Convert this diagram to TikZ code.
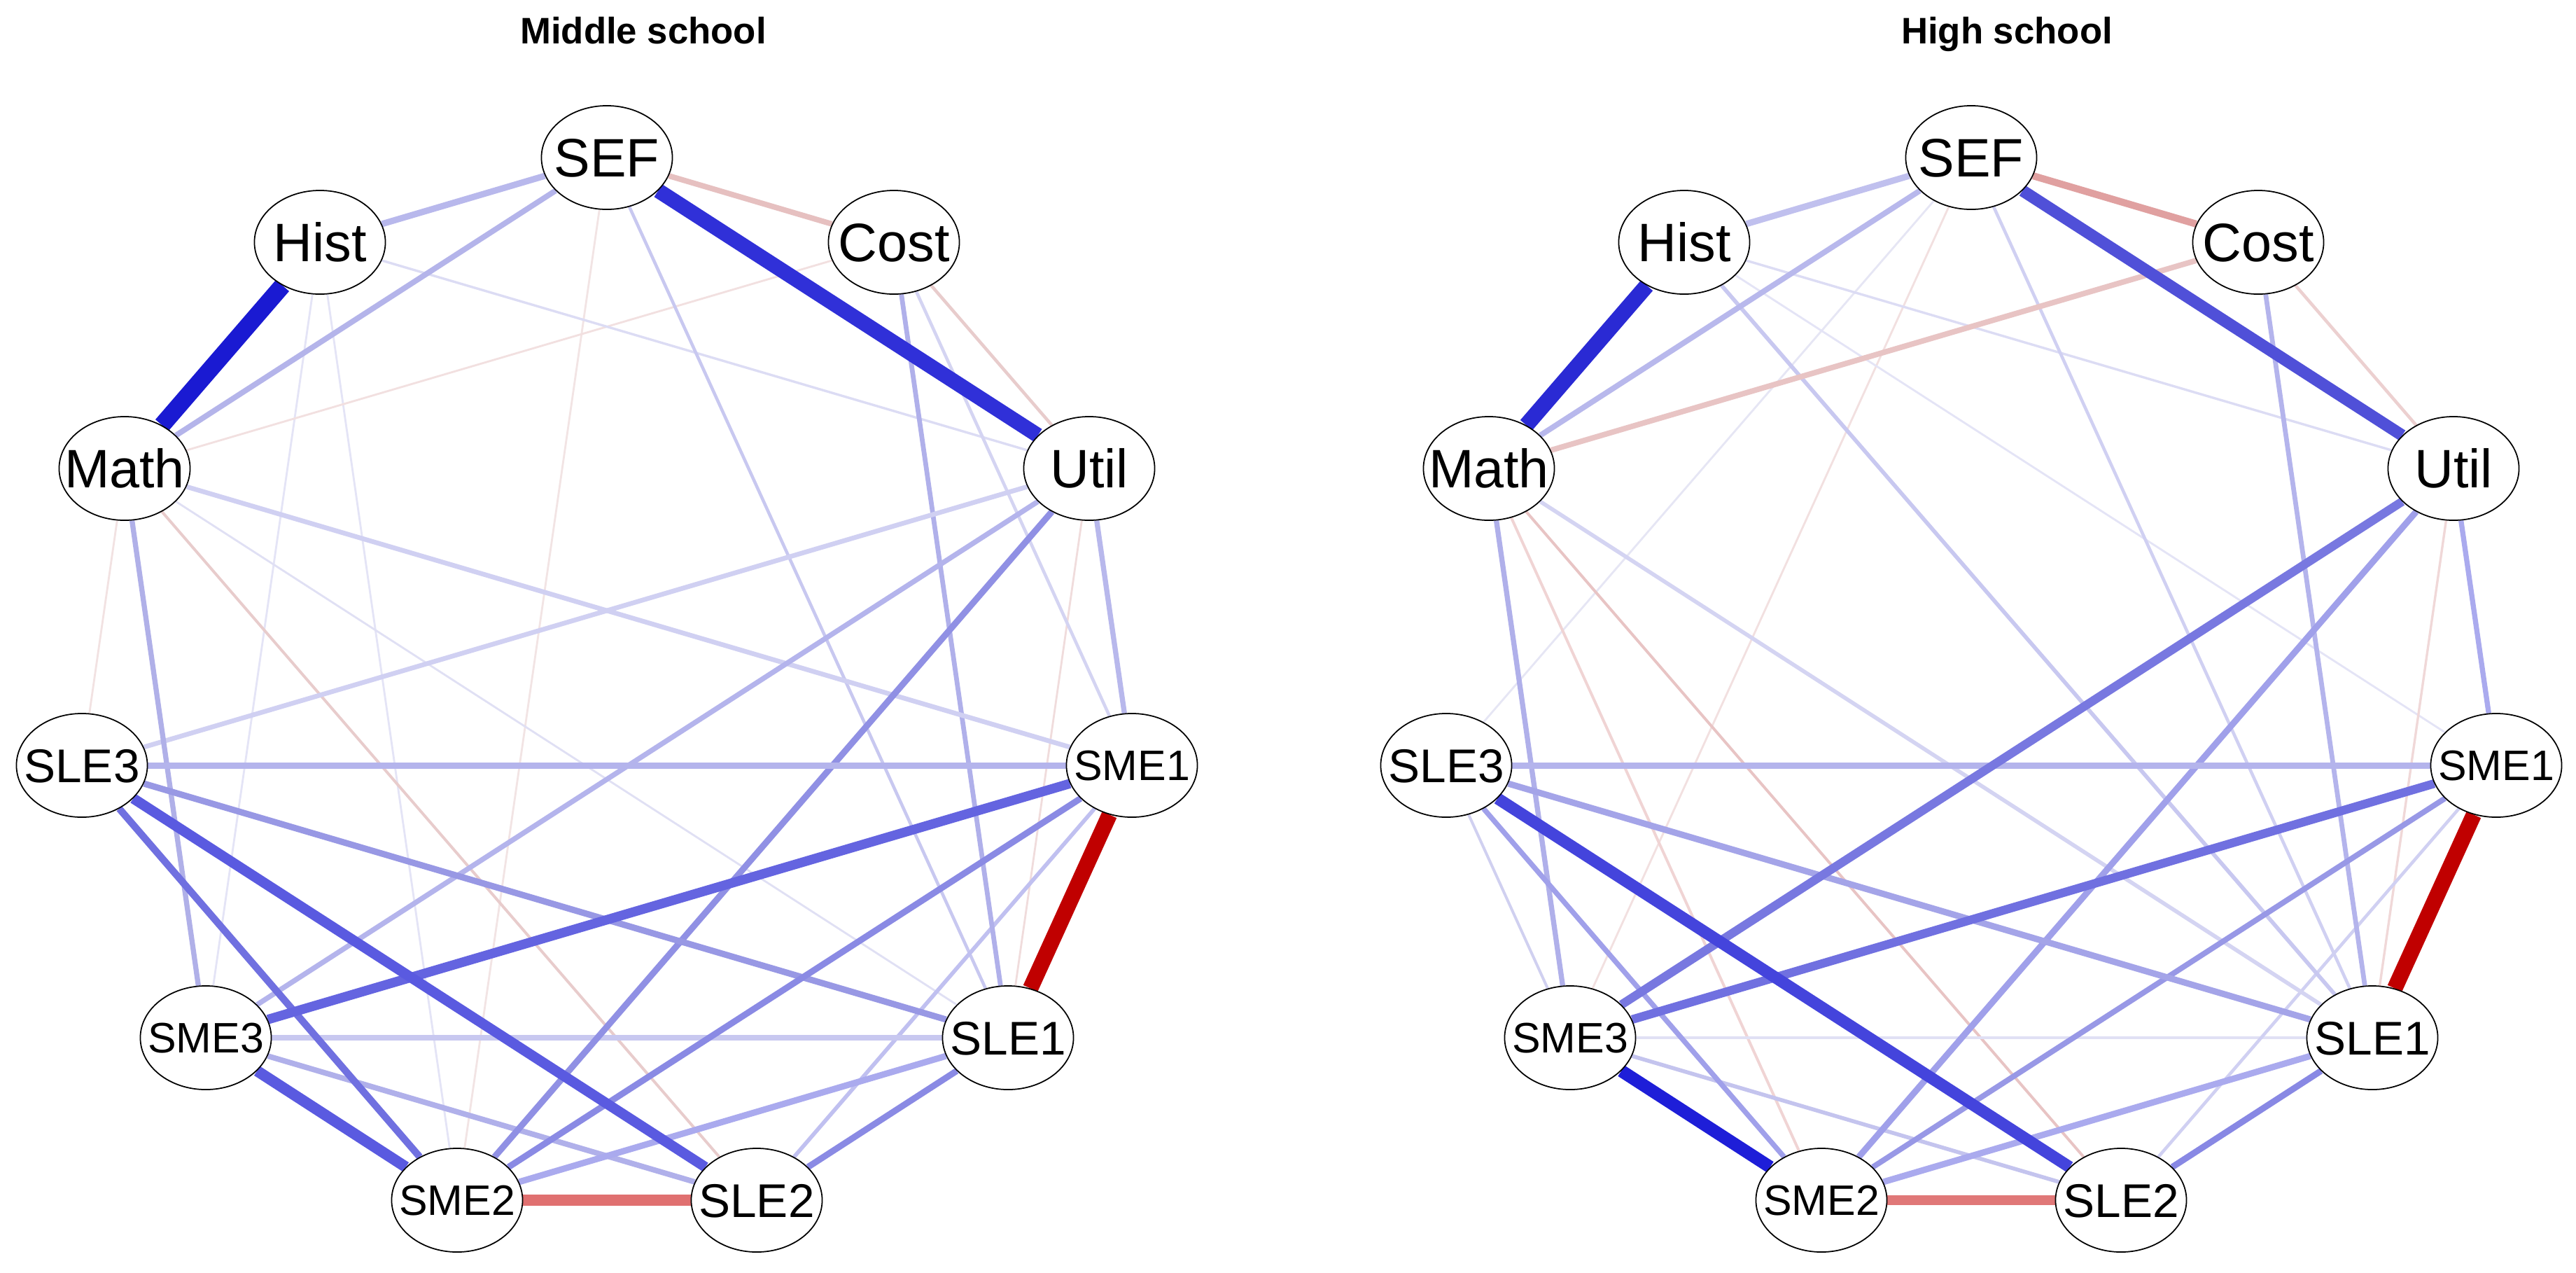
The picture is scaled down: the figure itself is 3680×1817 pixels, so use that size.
\documentclass[tikz,border=0pt]{standalone}
\usepackage{fontspec}
\setmainfont{Liberation Sans}
\usetikzlibrary{shapes.geometric}
\pgfdeclarelayer{back}
\pgfdeclarelayer{bg}
\pgfsetlayers{back,bg,main}
\newcommand\edg[4]{\definecolor{ec}{HTML}{#2}\draw[edge={#1}] (#3) -- (#4);}
\newcommand\lbl[1]{\makebox[0pt][c]{\smash{\raisebox{-0.358em}{#1}}}}
\tikzset{
  vtx/.style={ellipse, draw=black, line width=0.5pt, fill=white, minimum width=1.87cm, minimum height=1.48cm, inner sep=0pt},
  bigl/.style={vtx, font=\fontsize{22}{24}\selectfont},
  slel/.style={vtx, font=\fontsize{19.2}{21}\selectfont},
  smel/.style={vtx, font=\fontsize{17.3}{19}\selectfont},
  ttl/.style={font=\fontsize{15}{18}\selectfont\bfseries, anchor=base, inner sep=0pt},
  edge/.style={line width=#1*0.32pt, draw=ec}
}
\begin{document}
\begin{tikzpicture}[x=0.01cm, y=-0.01cm]
\useasboundingbox (0,0) rectangle (3680,1817);
\begin{pgfonlayer}{back}
\fill[white] (0,0) rectangle (3680,1817);
\end{pgfonlayer}
% titles
\node[ttl] (t1) at (919,62) {Middle school};
\node[ttl] (t2) at (2867,62) {High school};
% left nodes
\node[bigl] (aSEF)  at (867,225)  {\lbl{SEF}};
\node[bigl] (aCost) at (1277,346) {\lbl{Cost}};
\node[bigl] (aUtil) at (1556,669) {\lbl{Util}};
\node[smel] (aSME1) at (1617,1093) {\lbl{SME1}};
\node[slel] (aSLE1) at (1440,1482) {\lbl{SLE1}};
\node[slel] (aSLE2) at (1081,1714) {\lbl{SLE2}};
\node[smel] (aSME2) at (653,1714) {\lbl{SME2}};
\node[smel] (aSME3) at (294,1482) {\lbl{SME3}};
\node[slel] (aSLE3) at (117,1093) {\lbl{SLE3}};
\node[bigl] (aMath) at (178,669) {\lbl{Math}};
\node[bigl] (aHist) at (457,346) {\lbl{Hist}};
% right nodes
\node[bigl] (bSEF)  at (2816,225)  {\lbl{SEF}};
\node[bigl] (bCost) at (3226,346) {\lbl{Cost}};
\node[bigl] (bUtil) at (3505,669) {\lbl{Util}};
\node[smel] (bSME1) at (3566,1093) {\lbl{SME1}};
\node[slel] (bSLE1) at (3389,1482) {\lbl{SLE1}};
\node[slel] (bSLE2) at (3030,1714) {\lbl{SLE2}};
\node[smel] (bSME2) at (2602,1714) {\lbl{SME2}};
\node[smel] (bSME3) at (2243,1482) {\lbl{SME3}};
\node[slel] (bSLE3) at (2066,1093) {\lbl{SLE3}};
\node[bigl] (bMath) at (2127,669) {\lbl{Math}};
\node[bigl] (bHist) at (2406,346) {\lbl{Hist}};
\begin{pgfonlayer}{bg}
% ---- left panel edges ----
\edg{2.5}{F2E4E4}{aSEF}{aSME2}
\edg{2.5}{E4E4F6}{aHist}{aSME3}
\edg{2.5}{E4E4F6}{aHist}{aSME2}
\edg{2.5}{F2E0E0}{aCost}{aMath}
\edg{2.5}{F0DCDC}{aUtil}{aSLE1}
\edg{2.5}{E0E0F4}{aMath}{aSLE1}
\edg{2.5}{F2E2E2}{aMath}{aSLE3}
\edg{3}{DCDCF4}{aHist}{aUtil}
\edg{3.5}{E8CCCC}{aMath}{aSLE2}
\edg{4}{C8C8F0}{aSEF}{aSLE1}
\edg{4}{D4D4F2}{aCost}{aSME1}
\edg{4}{E8CCCC}{aCost}{aUtil}
\edg{5}{C0C0F0}{aSME1}{aSLE2}
\edg{6}{B0B0EA}{aCost}{aSLE1}
\edg{6}{D0D0F2}{aUtil}{aSLE3}
\edg{6}{D0D0F2}{aMath}{aSME1}
\edg{6.5}{B4B4EC}{aUtil}{aSME3}
\edg{6.5}{B8B8EC}{aUtil}{aSME1}
\edg{6.5}{B0B0E8}{aMath}{aSME3}
\edg{6.5}{C8C8F0}{aSME3}{aSLE1}
\edg{7}{B4B4EA}{aSEF}{aMath}
\edg{7}{E6C0C0}{aSEF}{aCost}
\edg{7}{B0B0EA}{aSME3}{aSLE2}
\edg{8}{B8B8EC}{aSEF}{aHist}
\edg{8}{9090E4}{aUtil}{aSME2}
\edg{8}{B4B4EC}{aSLE3}{aSME1}
\edg{8}{9898E4}{aSLE3}{aSLE1}
\edg{8}{8A8AE4}{aSME1}{aSME2}
\edg{8}{AAAAEE}{aSLE1}{aSME2}
\edg{8}{8A8AE4}{aSLE1}{aSLE2}
\edg{9}{7070E0}{aSLE3}{aSME2}
\edg{12}{6464E0}{aSME3}{aSME1}
\edg{13}{5A5AE0}{aSLE3}{aSLE2}
\edg{14}{5A5AE0}{aSME3}{aSME2}
\edg{15}{E07070}{aSME2}{aSLE2}
\edg{19}{3030D8}{aSEF}{aUtil}
\edg{20}{C00000}{aSME1}{aSLE1}
\edg{22}{1A1AD2}{aHist}{aMath}
% ---- right panel edges ----
\edg{2.5}{E6E6F4}{bSEF}{bSLE3}
\edg{2.5}{F2E0E0}{bSEF}{bSME3}
\edg{2.5}{E4E4F6}{bHist}{bSME1}
\edg{3}{DCDCF4}{bHist}{bUtil}
\edg{3}{F0D8D8}{bUtil}{bSLE1}
\edg{3.5}{F0D4D4}{bMath}{bSME2}
\edg{3.5}{E8C4C4}{bMath}{bSLE2}
\edg{3.5}{D0D0F0}{bSLE3}{bSME3}
\edg{3.5}{E0E0F4}{bSME3}{bSLE1}
\edg{4}{D0D0F2}{bSEF}{bSLE1}
\edg{4}{ECD0D0}{bCost}{bUtil}
\edg{4}{D0D0F2}{bSME1}{bSLE2}
\edg{5}{C8C8F0}{bHist}{bSLE1}
\edg{5}{D4D4F2}{bMath}{bSLE1}
\edg{5}{C4C4EE}{bSME3}{bSLE2}
\edg{6}{B4B4EC}{bCost}{bSLE1}
\edg{6.5}{AAAAEE}{bUtil}{bSME1}
\edg{6.5}{B0B0EA}{bMath}{bSME3}
\edg{6.5}{A0A0EA}{bSLE3}{bSME2}
\edg{7}{B8B8EC}{bSEF}{bMath}
\edg{7}{E8C4C4}{bCost}{bMath}
\edg{7}{9898E6}{bSME1}{bSME2}
\edg{8}{C0C0EE}{bSEF}{bHist}
\edg{8}{A0A0EA}{bUtil}{bSME2}
\edg{8}{B4B4EC}{bSLE3}{bSME1}
\edg{8}{A4A4E8}{bSLE3}{bSLE1}
\edg{8}{AAAAEE}{bSLE1}{bSME2}
\edg{8}{8888E4}{bSLE1}{bSLE2}
\edg{9}{E0A0A0}{bSEF}{bCost}
\edg{11}{7878E0}{bUtil}{bSME3}
\edg{11}{7070E0}{bSME3}{bSME1}
\edg{13}{E07878}{bSME2}{bSLE2}
\edg{15}{5050D8}{bSEF}{bUtil}
\edg{15}{4444DC}{bSLE3}{bSLE2}
\edg{16}{1E1ED8}{bSME3}{bSME2}
\edg{20}{2A2AD4}{bHist}{bMath}
\edg{20}{C00000}{bSME1}{bSLE1}
\end{pgfonlayer}
\end{tikzpicture}
\end{document}
